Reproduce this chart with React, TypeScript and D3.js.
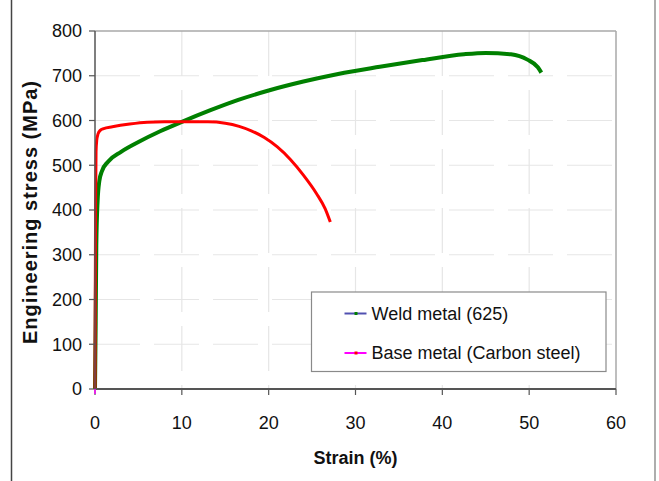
import { scaleLinear, line, curveMonotoneX } from "d3";

// values
const xTicks = [0, 10, 20, 30, 40, 50, 60];
const yTicks = [0, 100, 200, 300, 400, 500, 600, 700, 800];

const weldStrain = [0, 0.08, 0.15, 0.3, 0.5, 0.8, 1.5, 3, 5, 7.5, 10, 13.3, 16.5, 20, 24, 28, 32.8, 37.7, 42.5, 45, 47.9, 49.8, 51, 51.4];
const weldStress = [0, 150, 320, 420, 465, 487, 508, 530, 552, 576, 597, 623, 646, 667, 687, 704, 720, 735, 748, 751, 748, 736, 719, 707];

const baseStrain = [0, 0.03, 0.07, 0.12, 0.2, 0.35, 0.6, 1, 2, 4, 6, 8, 10, 13, 15, 16.6, 18, 19.5, 21, 22.5, 24, 25.5, 26.5, 27.1];
const baseStress = [0, 200, 420, 530, 556, 570, 578, 582, 586, 592, 596, 597, 597, 597, 594, 587, 577, 562, 541, 513, 478, 437, 403, 373];

const seriesNames = ["Weld metal (625)", "Base metal (Carbon steel)"];

const width = 659;
const height = 481;
const margin = { top: 31, right: 43, bottom: 92, left: 95 };
const innerWidth = width - margin.left - margin.right;
const innerHeight = height - margin.top - margin.bottom;

const font = "'Liberation Sans', Arial, sans-serif";

const App = () => {
  const xScale = scaleLinear().domain([0, 60]).range([0, innerWidth]);
  const yScale = scaleLinear().domain([0, 800]).range([innerHeight, 0]);

  const path = line<[number, number]>()
    .x((d) => xScale(d[0]))
    .y((d) => yScale(d[1]))
    .curve(curveMonotoneX);

  const weld = weldStrain.map((s, i) => [s, weldStress[i]] as [number, number]);
  const base = baseStrain.map((s, i) => [s, baseStress[i]] as [number, number]);

  return (
    <svg
      width={width}
      height={height}
      style={{ position: "absolute", left: 0, top: 0, background: "#fff" }}
      fontFamily={font}
    >
      {/* outer frame lines of the picture */}
      <line x1={11.5} x2={11.5} y1={0} y2={height} stroke="#444" strokeWidth={1.5} />
      <line x1={655} x2={655} y1={0} y2={height} stroke="#777" strokeWidth={1.2} />

      <g transform={`translate(${margin.left},${margin.top})`}>
        {/* grid */}
        {yTicks.slice(1, -1).map((t) => (
          <line
            key={"gy" + t}
            x1={0}
            x2={innerWidth}
            y1={yScale(t)}
            y2={yScale(t)}
            stroke="#e6e6e6"
            strokeWidth={1.2}
            strokeDasharray="45,14"
          />
        ))}
        {xTicks.slice(1, -1).map((t) => (
          <line
            key={"gx" + t}
            x1={xScale(t)}
            x2={xScale(t)}
            y1={0}
            y2={innerHeight}
            stroke="#e6e6e6"
            strokeWidth={1.2}
            strokeDasharray="45,14"
          />
        ))}

        {/* plot border */}
        <line x1={0} x2={innerWidth} y1={0} y2={0} stroke="#a8a8a8" strokeWidth={1.5} />
        <line x1={innerWidth} x2={innerWidth} y1={0} y2={innerHeight} stroke="#a8a8a8" strokeWidth={1.5} />

        {/* curves */}
        <path d={path(weld) || ""} fill="none" stroke="#008000" strokeWidth={4} strokeLinejoin="round" />
        <path d={path(base) || ""} fill="none" stroke="#ff0000" strokeWidth={3} strokeLinejoin="round" />

        {/* axes */}
        <line x1={0} x2={0} y1={0} y2={innerHeight} stroke="#555" strokeWidth={1.5} />
        <line x1={0} x2={innerWidth} y1={innerHeight} y2={innerHeight} stroke="#555" strokeWidth={2} />

        {yTicks.map((t) => (
          <g key={"ty" + t} transform={`translate(0,${yScale(t)})`}>
            <line x1={-6} x2={0} stroke="#555" strokeWidth={1.2} />
            <text x={-13} dy="0.36em" textAnchor="end" fontSize={18} fill="#111">
              {t}
            </text>
          </g>
        ))}
        {xTicks.map((t) => (
          <g key={"tx" + t} transform={`translate(${xScale(t)},${innerHeight})`}>
            <line y1={0} y2={6} stroke="#555" strokeWidth={1.2} />
            <text y={40} textAnchor="middle" fontSize={18} fill="#111">
              {t}
            </text>
          </g>
        ))}
        <line x1={0} x2={0} y1={innerHeight} y2={innerHeight + 5} stroke="#ff00ff" strokeWidth={1.5} />

        {/* axis titles */}
        <text
          x={innerWidth / 2}
          y={innerHeight + 75}
          textAnchor="middle"
          fontSize={18}
          fontWeight="bold"
          fill="#111"
        >
          Strain (%)
        </text>
        <text
          transform={`translate(${37 - margin.left},${innerHeight / 2 + 2}) rotate(-90)`}
          textAnchor="middle"
          fontSize={20}
          fontWeight="bold"
          letterSpacing={1}
          fill="#111"
        >
          Engineering stress (MPa)
        </text>

        {/* legend */}
        <g transform={`translate(${311.5 - margin.left},${292 - margin.top})`}>
          <rect x={0} y={0} width={294.5} height={79.5} fill="#fff" stroke="#8a8a8a" strokeWidth={1.2} />
          {seriesNames.map((name, i) => (
            <g key={name} transform={`translate(0,${21.5 + i * 39.5})`}>
              <line x1={33} x2={55} stroke={i === 0 ? "#5050b0" : "#ff00ff"} strokeWidth={2} />
              <rect x={43} y={-1.5} width={3} height={3} fill={i === 0 ? "#008000" : "#ff0000"} />
              <text x={60} dy="0.35em" fontSize={18} fill="#111">
                {name}
              </text>
            </g>
          ))}
        </g>
      </g>
    </svg>
  );
};

export default App;
